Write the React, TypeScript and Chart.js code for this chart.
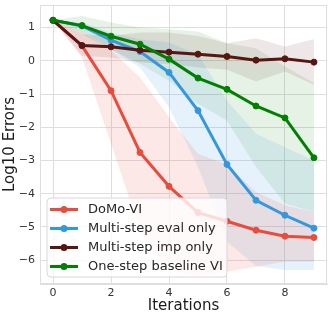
import React, { useEffect, useRef } from 'react';
import { Chart, registerables } from 'chart.js';

Chart.register(...registerables);

const iterations = [0, 1, 2, 3, 4, 5, 6, 7, 8, 9];
const xTicks = [0, 2, 4, 6, 8];
const yTicks = [1, 0, -1, -2, -3, -4, -5, -6];

const seriesLabels = ['DoMo-VI', 'Multi-step eval only', 'Multi-step imp only', 'One-step baseline VI'];

const domoVI = [1.22, 0.45, -0.9, -2.76, -3.78, -4.57, -4.83, -5.1, -5.28, -5.32];
const domoUpper = [1.22, 0.9, 0.3, -0.5, -1.7, -2.8, -3.12, -3.95, -4.35, -4.55];
const domoLower = [1.22, 0.1, -2.5, -5.1, -6.3, -6.5, -6.35, -6.2, -6.05, -6.05];

const evalOnly = [1.22, 1.05, 0.62, 0.28, -0.35, -1.5, -3.12, -4.2, -4.65, -5.04];
const evalUpper = [1.22, 1.15, 0.85, 0.65, 0.55, 0.2, -1.2, -2.2, -2.6, -3.0];
const evalLower = [1.22, 0.9, 0.35, -0.2, -1.4, -3.2, -5.45, -6.18, -6.3, -6.3];

const impOnly = [1.22, 0.46, 0.42, 0.32, 0.26, 0.2, 0.13, 0.02, 0.06, -0.04];
const impUpper = [1.22, 0.8, 0.75, 0.85, 0.85, 0.75, 0.53, 0.68, 0.43, 0.65];
const impLower = [1.22, 0.15, 0.1, -0.05, -0.1, -0.2, -0.27, -0.62, -0.32, -0.72];

const oneStep = [1.22, 1.06, 0.74, 0.5, 0.05, -0.52, -0.86, -1.36, -1.72, -2.92];
const oneUpper = [1.22, 1.35, 1.15, 1.0, 0.95, 0.88, 0.53, 0.38, -0.17, -0.67];
const oneLower = [1.22, 0.8, 0.35, -0.1, -0.6, -1.3, -1.8, -3.2, -4.3, -4.55];

const lineColors = ['#e74c3c', '#3498db', '#581610', '#008000'];
const bandColors = [
  'rgba(231,76,60,0.12)',
  'rgba(52,152,219,0.12)',
  'rgba(88,22,16,0.10)',
  'rgba(0,128,0,0.10)',
];

const FONT = "'DejaVu Sans', sans-serif";
const GRID = '#dedede';

const pts = (vals: number[]) => iterations.map((x, i) => ({ x, y: vals[i] }));

export default function App() {
  const ref = useRef<HTMLCanvasElement>(null);

  useEffect(() => {
    document.body.style.margin = '0';
    const canvas = ref.current;
    if (!canvas) return;

    const means = [domoVI, evalOnly, impOnly, oneStep];
    const uppers = [domoUpper, evalUpper, impUpper, oneUpper];
    const lowers = [domoLower, evalLower, impLower, oneLower];

    const datasets: any[] = [];
    // lines: first dataset is drawn on top, so reverse the legend order
    for (let k = 3; k >= 0; k--) {
      datasets.push({
        label: seriesLabels[k],
        data: pts(means[k]),
        borderColor: lineColors[k],
        backgroundColor: lineColors[k],
        borderWidth: 3,
        pointRadius: 3,
        pointBorderWidth: 1,
        pointBorderColor: lineColors[k],
        pointBackgroundColor: lineColors[k],
        fill: false,
        tension: 0,
      });
    }
    for (let k = 0; k < 4; k++) {
      datasets.push({
        label: seriesLabels[k] + ' upper',
        data: pts(uppers[k]),
        borderWidth: 0,
        borderColor: 'rgba(0,0,0,0)',
        pointRadius: 0,
        fill: false,
        tension: 0,
      });
      datasets.push({
        label: seriesLabels[k] + ' lower',
        data: pts(lowers[k]),
        borderWidth: 0,
        borderColor: 'rgba(0,0,0,0)',
        backgroundColor: bandColors[k],
        pointRadius: 0,
        fill: '-1',
        tension: 0,
      });
    }

    const framePlugin = {
      id: 'frameAndLegend',
      afterDraw(chart: any) {
        const { ctx, chartArea } = chart;
        ctx.save();
        ctx.strokeStyle = GRID;
        ctx.lineWidth = 1;
        ctx.strokeRect(
          Math.round(chartArea.left) + 0.5,
          Math.round(chartArea.top) + 0.5,
          Math.round(chartArea.right - chartArea.left) - 1,
          Math.round(chartArea.bottom - chartArea.top) - 1
        );

        // legend box
        const bx = 47, by = 198, bw = 180, bh = 79, r = 4;
        ctx.beginPath();
        ctx.moveTo(bx + r, by);
        ctx.lineTo(bx + bw - r, by);
        ctx.arcTo(bx + bw, by, bx + bw, by + r, r);
        ctx.lineTo(bx + bw, by + bh - r);
        ctx.arcTo(bx + bw, by + bh, bx + bw - r, by + bh, r);
        ctx.lineTo(bx + r, by + bh);
        ctx.arcTo(bx, by + bh, bx, by + bh - r, r);
        ctx.lineTo(bx, by + r);
        ctx.arcTo(bx, by, bx + r, by, r);
        ctx.closePath();
        ctx.fillStyle = 'rgba(255,255,255,0.8)';
        ctx.fill();
        ctx.strokeStyle = '#d8d8d8';
        ctx.stroke();

        ctx.font = `13px ${FONT}`;
        ctx.textBaseline = 'middle';
        ctx.textAlign = 'left';
        for (let k = 0; k < 4; k++) {
          const y = 209.5 + k * 19;
          ctx.strokeStyle = lineColors[k];
          ctx.lineWidth = 3;
          ctx.beginPath();
          ctx.moveTo(50, y);
          ctx.lineTo(78, y);
          ctx.stroke();
          ctx.fillStyle = lineColors[k];
          ctx.beginPath();
          ctx.arc(64, y, 3.5, 0, Math.PI * 2);
          ctx.fill();
          ctx.fillStyle = '#262626';
          ctx.fillText(seriesLabels[k], 88, y);
        }
        ctx.restore();
      },
    };

    const chart = new Chart(canvas, {
      type: 'line',
      data: { datasets },
      options: {
        responsive: false,
        animation: false,
        events: [],
        layout: { padding: { left: 0, right: 4, top: 4, bottom: 0 } },
        plugins: {
          legend: { display: false },
          tooltip: { enabled: false },
          filler: { drawTime: 'beforeDatasetsDraw' },
        } as any,
        scales: {
          x: {
            type: 'linear',
            min: -0.45,
            max: 9.45,
            afterBuildTicks: (s: any) => {
              s.ticks = xTicks.map((v) => ({ value: v }));
            },
            afterFit: (s: any) => {
              s.height = 35;
              s.paddingLeft = 0;
              s.paddingRight = 0;
            },
            grid: { color: GRID, drawTicks: false, lineWidth: 1 },
            border: { color: GRID },
            ticks: {
              padding: 3,
              font: { family: FONT, size: 11 },
              color: '#333333',
              maxRotation: 0,
              callback: (v: any) => String(v),
            },
            title: {
              display: true,
              text: 'Iterations',
              font: { family: FONT, size: 15 },
              color: '#1a1a1a',
              padding: { top: 0, bottom: 4 },
            },
          },
          y: {
            type: 'linear',
            min: -6.72,
            max: 1.68,
            afterBuildTicks: (s: any) => {
              s.ticks = yTicks.map((v) => ({ value: v }));
            },
            afterFit: (s: any) => {
              s.width = 40;
              s.paddingTop = 0;
              s.paddingBottom = 0;
            },
            grid: { color: GRID, drawTicks: false, lineWidth: 1 },
            border: { color: GRID },
            ticks: {
              padding: 5,
              font: { family: FONT, size: 11 },
              color: '#333333',
              callback: (v: any) => (v < 0 ? '\u2212' + Math.abs(v) : String(v)),
            },
            title: {
              display: true,
              text: 'Log10 Errors',
              font: { family: FONT, size: 15 },
              color: '#1a1a1a',
              padding: { top: 1, bottom: 0 },
            },
          },
        },
      },
      plugins: [framePlugin],
    });

    return () => chart.destroy();
  }, []);

  return (
    <div style={{ width: 332, height: 319 }}>
      <canvas ref={ref} width={332} height={319} style={{ display: 'block', width: 332, height: 319 }} />
    </div>
  );
}
